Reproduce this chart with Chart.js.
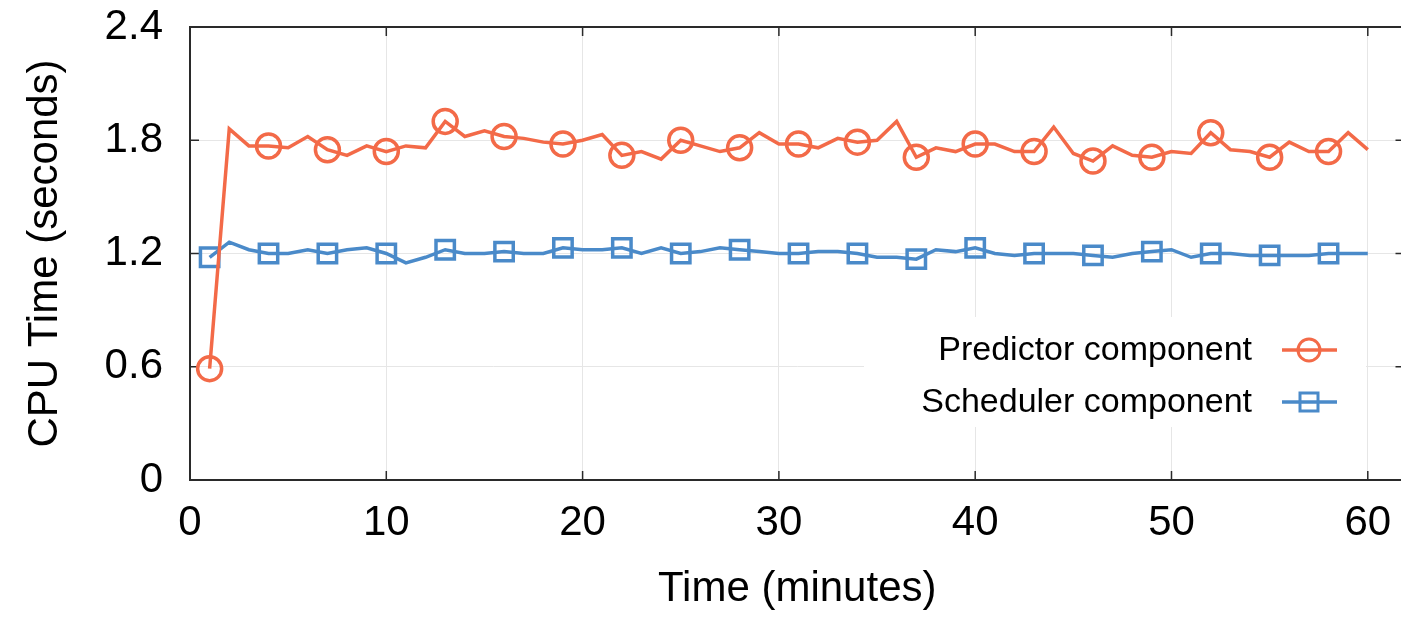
<!DOCTYPE html>
<html>
<head>
<meta charset="utf-8">
<script src="https://cdn.jsdelivr.net/npm/chart.js@4"></script>
<style>
  html, body { margin: 0; padding: 0; background: #fff; overflow: hidden; }
  #cpu { display: block; }
</style>
</head>
<body>
<canvas id="cpu" width="1421" height="617"></canvas>
<script>
// ========== DATA ==========
const minutes = [1, 2, 3, 4, 5, 6, 7, 8, 9, 10,
    11, 12, 13, 14, 15, 16, 17, 18, 19, 20,
    21, 22, 23, 24, 25, 26, 27, 28, 29, 30,
    31, 32, 33, 34, 35, 36, 37, 38, 39, 40,
    41, 42, 43, 44, 45, 46, 47, 48, 49, 50,
    51, 52, 53, 54, 55, 56, 57, 58, 59, 60];

const predictorCpu = [0.59, 1.86, 1.77, 1.77, 1.76, 1.82, 1.75, 1.72, 1.77, 1.74,
    1.77, 1.76, 1.90, 1.82, 1.85, 1.82, 1.81, 1.79, 1.78, 1.80,
    1.83, 1.72, 1.74, 1.70, 1.80, 1.77, 1.74, 1.76, 1.84, 1.78,
    1.78, 1.76, 1.81, 1.79, 1.80, 1.90, 1.71, 1.76, 1.74, 1.78,
    1.78, 1.74, 1.74, 1.87, 1.73, 1.69, 1.77, 1.72, 1.71, 1.74,
    1.73, 1.84, 1.75, 1.74, 1.71, 1.79, 1.74, 1.74, 1.84, 1.75];

const schedulerCpu = [1.18, 1.26, 1.22, 1.20, 1.20, 1.22, 1.20, 1.22, 1.23, 1.20,
    1.15, 1.18, 1.22, 1.20, 1.20, 1.21, 1.20, 1.20, 1.23, 1.22,
    1.22, 1.23, 1.20, 1.23, 1.20, 1.21, 1.23, 1.22, 1.21, 1.20,
    1.20, 1.21, 1.21, 1.20, 1.18, 1.18, 1.17, 1.22, 1.21, 1.23,
    1.20, 1.19, 1.20, 1.20, 1.20, 1.19, 1.18, 1.20, 1.21, 1.22,
    1.18, 1.20, 1.20, 1.19, 1.19, 1.19, 1.19, 1.20, 1.20, 1.20];

const seriesLabels = ['Predictor component', 'Scheduler component'];
const xTicks = [0, 10, 20, 30, 40, 50, 60];
const yTicks = [0, 0.6, 1.2, 1.8, 2.4];

const ORANGE = '#f36a48';
const BLUE = '#4a8ac9';
const FONT = "'Liberation Sans', Arial, Helvetica, sans-serif";

// only every third sample gets a marker
const markEvery3 = (r) => (ctx) => (ctx.dataIndex % 3 === 0 ? r : 0);

// drop the label padding Chart.js adds so the plot box is placed by layout.padding
const noScalePadding = (s) => {
    s.paddingTop = 0; s.paddingBottom = 0;
    s.paddingLeft = 0; s.paddingRight = 0;
};

// ========== PLUGINS ==========
// gnuplot-style frame with inward tick marks
const frameTicks = {
    id: 'frameTicks',
    beforeDatasetsDraw(chart) {
        const { ctx, chartArea: a, scales: { x, y } } = chart;
        ctx.save();
        ctx.strokeStyle = '#2a2a2a';
        ctx.lineWidth = 1.5;
        ctx.beginPath();
        x.ticks.forEach(t => {
            const px = x.getPixelForValue(t.value);
            ctx.moveTo(px, a.bottom); ctx.lineTo(px, a.bottom - 9);
            ctx.moveTo(px, a.top); ctx.lineTo(px, a.top + 9);
        });
        y.ticks.forEach(t => {
            const py = y.getPixelForValue(t.value);
            ctx.moveTo(a.left, py); ctx.lineTo(a.left + 9, py);
            ctx.moveTo(a.right, py); ctx.lineTo(a.right - 9, py);
        });
        ctx.stroke();
        ctx.lineWidth = 2;
        ctx.strokeRect(a.left, a.top, a.right - a.left, a.bottom - a.top);
        ctx.restore();
    },
};

// legend: text right-aligned, line sample with marker on the right
const sideLegend = {
    id: 'sideLegend',
    afterDatasetsDraw(chart) {
        const { ctx } = chart;
        ctx.save();
        ctx.fillStyle = '#fff';
        ctx.fillRect(864, 317, 502, 110);
        ctx.font = `34px ${FONT}`;
        ctx.textAlign = 'right';
        ctx.textBaseline = 'middle';
        chart.data.datasets.forEach((ds, i) => {
            const rowY = 350 + i * 52;
            ctx.fillStyle = '#000';
            ctx.fillText(ds.label, 1252, rowY + 1);
            ctx.strokeStyle = ds.borderColor;
            ctx.lineWidth = 3.5;
            ctx.beginPath();
            ctx.moveTo(1282, rowY); ctx.lineTo(1337, rowY);
            ctx.stroke();
            ctx.lineWidth = 3;
            ctx.beginPath();
            if (ds.pointStyle === 'circle') {
                ctx.arc(1309, rowY, 11, 0, Math.PI * 2);
            } else {
                ctx.rect(1309 - 9, rowY - 9, 18, 18);
            }
            ctx.stroke();
        });
        ctx.restore();
    },
};

// ========== CHART ==========
new Chart(document.getElementById('cpu'), {
    type: 'line',
    data: {
        datasets: [
            {
                label: seriesLabels[0],
                data: minutes.map((m, i) => ({ x: m, y: predictorCpu[i] })),
                borderColor: ORANGE,
                backgroundColor: 'transparent',
                borderWidth: 3.5,
                pointStyle: 'circle',
                pointRadius: markEvery3(12),
                pointBorderWidth: 3.5,
                pointBorderColor: ORANGE,
                pointBackgroundColor: 'transparent',
                tension: 0,
            },
            {
                label: seriesLabels[1],
                data: minutes.map((m, i) => ({ x: m, y: schedulerCpu[i] })),
                borderColor: BLUE,
                backgroundColor: 'transparent',
                borderWidth: 3.5,
                pointStyle: 'rect',
                pointRadius: markEvery3(13),
                pointBorderWidth: 3.5,
                pointBorderColor: BLUE,
                pointBackgroundColor: 'transparent',
                tension: 0,
            },
        ],
    },
    options: {
        responsive: false,
        animation: false,
        events: [],
        layout: { padding: { top: 27, right: 0, left: 0, bottom: 0 } },
        plugins: {
            legend: { display: false },
            tooltip: { enabled: false },
        },
        scales: {
            x: {
                type: 'linear',
                min: 0,
                max: 61.87,
                afterFit: (s) => { s.height = 137; noScalePadding(s); },
                afterBuildTicks: (s) => { s.ticks = xTicks.map(v => ({ value: v })); },
                ticks: {
                    color: '#000',
                    font: { family: FONT, size: 42 },
                    padding: 18,
                    maxRotation: 0,
                    callback: (v) => String(v),
                },
                grid: { color: '#e6e6e6', lineWidth: 1, drawTicks: false },
                border: { display: false },
                title: {
                    display: true,
                    text: 'Time (minutes)',
                    color: '#000',
                    font: { family: FONT, size: 42 },
                    padding: { top: 0, bottom: 2 },
                },
            },
            y: {
                min: 0,
                max: 2.4,
                afterFit: (s) => { s.width = 190; noScalePadding(s); },
                afterBuildTicks: (s) => { s.ticks = yTicks.map(v => ({ value: v })); },
                ticks: {
                    color: '#000',
                    font: { family: FONT, size: 42 },
                    padding: 27,
                    callback: (v) => String(v),
                },
                grid: { color: '#e6e6e6', lineWidth: 1, drawTicks: false },
                border: { display: false },
                title: {
                    display: true,
                    text: 'CPU Time (seconds)',
                    color: '#000',
                    font: { family: FONT, size: 42 },
                    padding: { top: 20, bottom: 0 },
                },
            },
        },
    },
    plugins: [frameTicks, sideLegend],
});
</script>
</body>
</html>
